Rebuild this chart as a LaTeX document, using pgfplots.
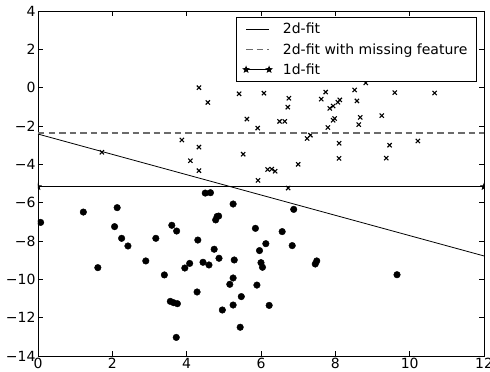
\documentclass[border=0pt]{standalone}
\usepackage{fontspec}
\setmainfont{DejaVu Sans}
\usepackage{pgfplots}
\pgfplotsset{compat=1.18}
\usetikzlibrary{calc}
\pgfdeclareplotmark{fstar}{%
 \pgfpathmoveto{\pgfpointpolar{90}{\pgfplotmarksize}}%
 \pgfpathlineto{\pgfpointpolar{126}{0.42\pgfplotmarksize}}%
 \pgfpathlineto{\pgfpointpolar{162}{\pgfplotmarksize}}%
 \pgfpathlineto{\pgfpointpolar{198}{0.42\pgfplotmarksize}}%
 \pgfpathlineto{\pgfpointpolar{234}{\pgfplotmarksize}}%
 \pgfpathlineto{\pgfpointpolar{270}{0.42\pgfplotmarksize}}%
 \pgfpathlineto{\pgfpointpolar{306}{\pgfplotmarksize}}%
 \pgfpathlineto{\pgfpointpolar{342}{0.42\pgfplotmarksize}}%
 \pgfpathlineto{\pgfpointpolar{18}{\pgfplotmarksize}}%
 \pgfpathlineto{\pgfpointpolar{54}{0.42\pgfplotmarksize}}%
 \pgfpathclose\pgfusepathqfillstroke}
\pgfplotstableread{
x y
0.07 -7.03
1.22 -6.49
2.13 -6.26
1.61 -9.39
2.06 -7.25
2.25 -7.86
2.42 -8.26
2.90 -9.04
3.17 -7.86
3.40 -9.77
3.60 -7.18
3.73 -7.48
3.56 -11.15
3.65 -11.22
3.75 -11.27
3.72 -13.03
3.95 -9.41
4.08 -9.17
4.30 -7.95
4.28 -10.66
4.44 -9.11
4.60 -9.25
4.50 -5.50
4.64 -5.48
4.74 -8.43
4.78 -6.90
4.82 -6.72
4.86 -6.70
4.87 -8.90
4.96 -11.60
5.25 -6.07
5.28 -8.99
5.25 -9.93
5.16 -10.26
5.25 -11.34
5.47 -10.90
5.44 -12.50
6.88 -6.35
5.85 -7.34
6.57 -7.51
6.13 -8.14
5.96 -8.50
6.00 -9.13
6.04 -9.37
6.84 -8.24
5.89 -10.30
6.22 -11.36
7.50 -9.04
7.46 -9.20
9.66 -9.76
}\circles
\pgfplotstableread{
x y
1.72 -3.37
4.33 0.00
4.57 -0.77
3.87 -2.73
4.33 -3.10
4.10 -3.81
4.33 -4.33
5.41 -0.32
5.62 -1.64
5.52 -3.47
6.08 -0.29
5.91 -2.11
6.75 -0.55
6.72 -1.02
6.50 -1.76
6.64 -1.76
5.92 -4.84
6.18 -4.27
6.29 -4.25
6.38 -4.36
6.73 -5.24
7.00 -4.00
7.24 -2.65
7.33 -2.48
7.62 -0.60
7.74 -0.23
7.85 -1.08
7.94 -0.96
8.07 -0.76
8.12 -0.64
7.98 -1.61
7.94 -1.70
7.80 -2.08
8.10 -2.90
8.10 -3.69
8.52 -0.12
8.58 -0.69
8.82 0.25
8.67 -1.55
8.63 -1.93
9.25 -1.46
9.60 -0.26
9.46 -3.00
9.37 -3.68
10.22 -2.78
10.67 -0.28
}\crosses
\begin{document}
\begin{tikzpicture}
\begin{axis}[name=ax, scale only axis, width=446pt, height=345pt,
 xmin=0, xmax=12, ymin=-14, ymax=4,
 clip marker paths=true,
 xtick={0,2,...,12}, ytick={-14,-12,...,4},
 xticklabels={0,2,4,6,8,10,12},
 yticklabels={−14,−12,−10,−8,−6,−4,−2,0,2,4},
 tick align=inside, major tick length=5pt,
 tick style={black, line width=0.7pt},
 axis line style={line width=0.9pt},
 ticklabel style={font=\fontsize{14}{16}\selectfont},
 xticklabel style={yshift=1pt},
 yticklabel style={xshift=1pt},
 legend style={at={(0.984,0.983)}, anchor=north east,
   font=\fontsize{14}{16}\selectfont, draw=black, line width=0.8pt,
   row sep=4pt, inner xsep=7pt, inner ysep=4pt, cells={anchor=west},
   /tikz/every odd column/.append style={column sep=9pt}},
 legend image code/.code={\draw[#1] plot coordinates {(0pt,0pt) (23pt,0pt)};},
]
\addplot[only marks, mark=*, mark size=3.3pt, black, forget plot] table[x=x,y=y] {\circles};
\addplot[only marks, mark=x, mark size=3pt, black, line width=1.1pt, forget plot] table[x=x,y=y] {\crosses};
\addplot[black, line width=0.8pt] coordinates {(0,-2.42) (12,-8.78)};
\addlegendentry{2d-fit}
\addplot[black!58, line width=1.6pt, dash pattern=on 6.5pt off 4pt] coordinates {(0,-2.38) (12,-2.38)};
\addlegendentry{2d-fit with missing feature}
\addplot[black, line width=0.8pt, mark=fstar, mark size=3pt, mark options={solid}] coordinates {(0,-5.17) (12,-5.17)};
\addlegendentry{1d-fit}
\end{axis}
\pgfresetboundingbox
\useasboundingbox ($(ax.south west)+(-38pt,-16pt)$) rectangle ($(ax.north east)+(6pt,11pt)$);
\end{tikzpicture}
\end{document}
